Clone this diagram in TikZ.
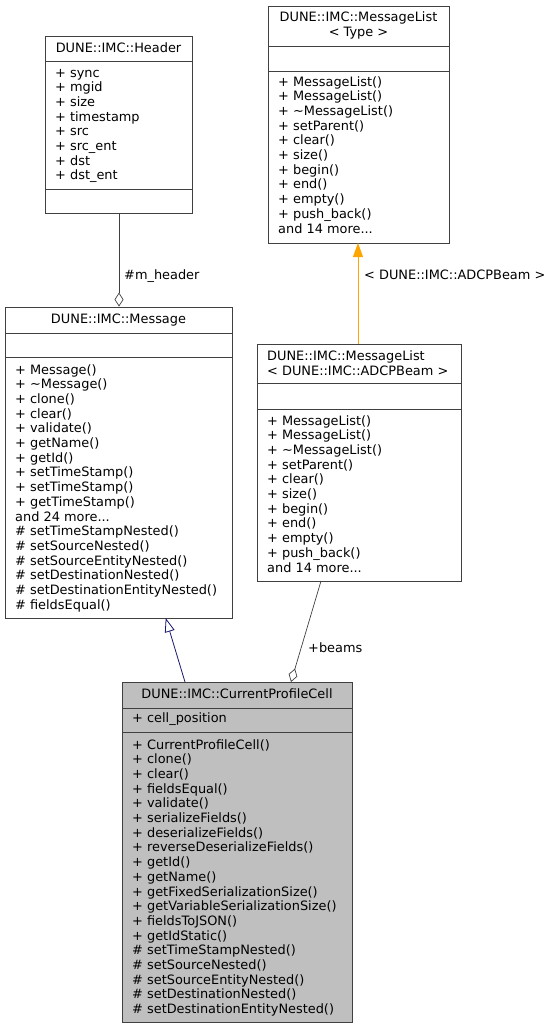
\documentclass[tikz,border=0pt]{standalone}
\usepackage{fontspec}
\setmainfont{DejaVu Sans}
\usetikzlibrary{arrows.meta}
\definecolor{edgegray}{HTML}{404040}
\definecolor{cellfill}{HTML}{BFBFBF}
\definecolor{inhblue}{HTML}{191970}
\definecolor{tmplorange}{HTML}{FFA500}
\newcommand\threedots{...}
\newcommand\umllines[4]{% x, first baseline, prefix, list
  \foreach \t [count=\i from 0] in {#4} {
    \node[txt, anchor=base west] (#3\i) at (#1, #2+\i*14.7) {\t};
  }}
\begin{document}
\begin{tikzpicture}[x=1pt,y=-1pt,
  txt/.style={inner sep=0pt, font=\fontsize{12.9}{14.6}\selectfont},
  classbox/.style={draw=edgegray, line width=0.9pt, inner sep=0pt, rectangle},
  sepline/.style={draw=edgegray, line width=0.9pt},
  aggr/.style={draw=edgegray, line width=0.7pt, -{Diamond[open, length=14pt, width=9pt, fill=white]}},
  inherit/.style={draw=inhblue, line width=0.8pt, -{Triangle[open, length=14pt, width=10pt, fill=white]}},
  tmpl/.style={draw=tmplorange, line width=0.8pt, -{Triangle[length=14pt, width=10pt]}},
  lbl/.style={inner sep=0pt, font=\fontsize{12.9}{14.6}\selectfont, anchor=base west}]
\useasboundingbox (0,0) rectangle (551,1028);

% ---------- Header ----------
\node[classbox, minimum width=147pt, minimum height=177pt] (header) at (118.5,124.5) {};
\draw[sepline] (45,61) -- (192,61);
\draw[sepline] (45,189) -- (192,189);
\node[txt, anchor=base] (headertitle) at (118.5,52.5) {DUNE::IMC::Header};
\umllines{55}{77}{hattr}{+ sync,+ mgid,+ size,+ timestamp,+ src,+ src\_ent,+ dst,+ dst\_ent}

% ---------- MessageList<Type> ----------
\node[classbox, minimum width=181pt, minimum height=237pt] (mlt) at (358.5,124.5) {};
\draw[sepline] (268,46) -- (449,46);
\draw[sepline] (268,71) -- (449,71);
\node[txt, anchor=base] (mlttitle1) at (358.5,21.5) {DUNE::IMC::MessageList};
\node[txt, anchor=base] (mlttitle2) at (358.5,36.5) {< Type >};
\umllines{278}{86}{mltm}{+ MessageList(),+ MessageList(),+ \textasciitilde MessageList(),+ setParent(),+ clear(),+ size(),+ begin(),+ end(),+ empty(),+ push\_back(),and 14 more\threedots}

% ---------- Message ----------
\node[classbox, minimum width=227pt, minimum height=311pt] (msg) at (118.5,462.5) {};
\draw[sepline] (5,333) -- (232,333);
\draw[sepline] (5,357) -- (232,357);
\node[txt, anchor=base] (msgtitle) at (118.5,323.5) {DUNE::IMC::Message};
\umllines{15}{374}{msgm}{+ Message(),+ \textasciitilde Message(),+ clone(),+ clear(),+ validate(),+ getName(),+ getId(),+ setTimeStamp(),+ setTimeStamp(),+ getTimeStamp(),and 24 more\threedots,\# setTimeStampNested(),\# setSourceNested(),\# setSourceEntityNested(),\# setDestinationNested(),\# setDestinationEntityNested(),\# fieldsEqual()}

% ---------- MessageList<ADCPBeam> ----------
\node[classbox, minimum width=204pt, minimum height=237pt] (mla) at (359,462.5) {};
\draw[sepline] (257,383) -- (461,383);
\draw[sepline] (257,409) -- (461,409);
\node[txt, anchor=base west] (mlatitle1) at (267,360) {DUNE::IMC::MessageList};
\node[txt, anchor=base west] (mlatitle2) at (267,375) {< DUNE::IMC::ADCPBeam >};
\umllines{267}{425}{mlam}{+ MessageList(),+ MessageList(),+ \textasciitilde MessageList(),+ setParent(),+ clear(),+ size(),+ begin(),+ end(),+ empty(),+ push\_back(),and 14 more\threedots}

% ---------- CurrentProfileCell ----------
\node[classbox, fill=cellfill, minimum width=230pt, minimum height=340pt] (cpc) at (237,852) {};
\draw[sepline] (122,708) -- (352,708);
\draw[sepline] (122,732) -- (352,732);
\node[txt, anchor=base] (cpctitle) at (237,698.5) {DUNE::IMC::CurrentProfileCell};
\node[txt, anchor=base west] (cpcattr) at (132,722.5) {+ cell\_position};
\umllines{132}{749}{cpcm}{+ CurrentProfileCell(),+ clone(),+ clear(),+ fieldsEqual(),+ validate(),+ serializeFields(),+ deserializeFields(),+ reverseDeserializeFields(),+ getId(),+ getName(),+ getFixedSerializationSize(),+ getVariableSerializationSize(),+ fieldsToJSON(),+ getIdStatic(),\# setTimeStampNested(),\# setSourceNested(),\# setSourceEntityNested(),\# setDestinationNested(),\# setDestinationEntityNested()}

% ---------- connectors ----------
\coordinate (hbot) at (119,213);
\coordinate (mtop) at (119,307);
\draw[aggr] (header.south -| hbot) -- (msg.north -| mtop);
\node[lbl] (mheaderlbl) at (124,279) {\#m\_header};

\coordinate (mlabot) at (321,581);
\coordinate (cpctopr) at (291,682);
\draw[aggr] (mlabot) -- (cpctopr);
\node[lbl] (beamslbl) at (308,652) {+beams};

\coordinate (cpctopl) at (185,682);
\coordinate (msgbot) at (165.7,618);
\draw[inherit] (cpctopl) -- (msgbot);

\coordinate (mlatop) at (358,344);
\coordinate (mltbot) at (358,243);
\draw[tmpl] (mlatop) -- (mltbot);
\node[lbl] (tmpllbl) at (364,279) {< DUNE::IMC::ADCPBeam >};
\end{tikzpicture}
\end{document}
